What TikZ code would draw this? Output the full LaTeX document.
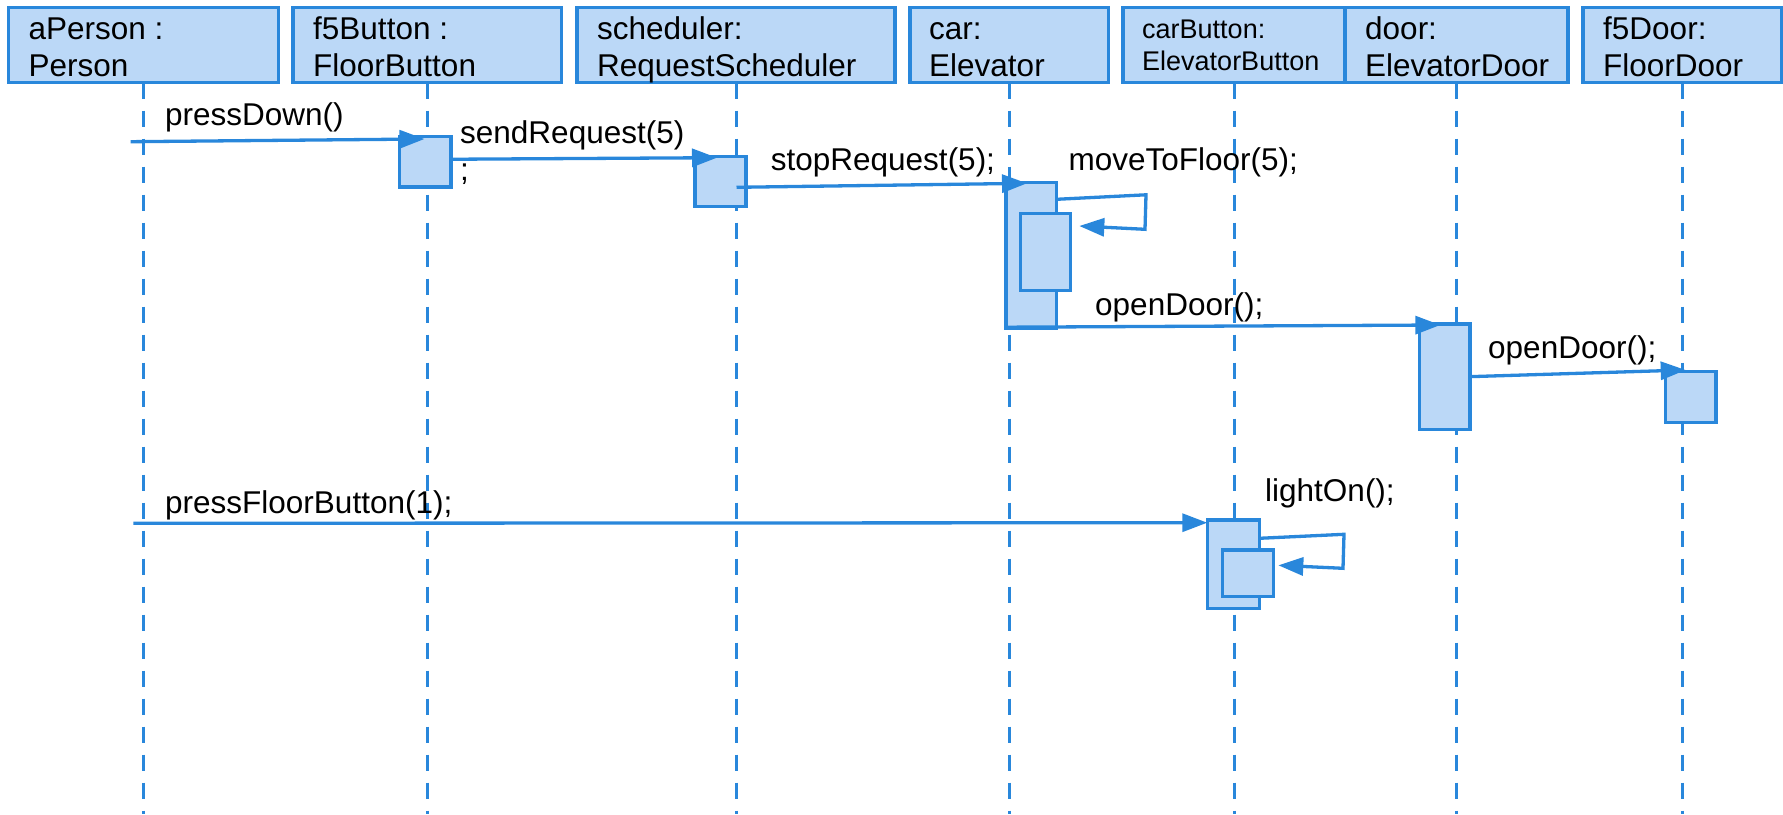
\documentclass[tikz,border=0pt]{standalone}
\usepackage{fontspec}
\setmainfont{Liberation Sans}
\usetikzlibrary{arrows.meta,calc}
\definecolor{azul}{RGB}{41,135,219}
\definecolor{celeste}{RGB}{187,216,247}

\begin{document}
\begin{tikzpicture}[x=1pt,y=-1pt,
  cab/.style={draw=azul,fill=celeste,line width=3.5pt,rectangle,anchor=north west,inner sep=0pt,outer sep=0pt,minimum height=75.2pt},
  txt/.style={anchor=north west,align=left,inner sep=0pt,font=\fontsize{31.5}{37}\selectfont},
  txtp/.style={anchor=north west,align=left,inner sep=0pt,font=\fontsize{27}{32}\selectfont},
  act/.style={draw=azul,fill=celeste,line width=3.5pt,rectangle,anchor=north west,inner sep=0pt,outer sep=0pt},
  vida/.style={azul,line width=3pt,dash pattern=on 16pt off 12pt},
  msg/.style={azul,line width=3.3pt,-{Triangle[length=25pt,width=18pt]}},
  lbl/.style={anchor=base west,inner sep=0pt,font=\fontsize{31.5}{37}\selectfont}]
  \useasboundingbox (0,0) rectangle (1783,814);
  \coordinate (fondo) at (0,814);

  % Cabeceras
  \node[cab,minimum width=270pt] (person) at (8.3,7.5) {};
  \node[cab,minimum width=268.5pt] (fbutton) at (293,7.5) {};
  \node[cab,minimum width=318pt] (sched) at (577,7.5) {};
  \node[cab,minimum width=198.7pt] (car) at (910,7.5) {};
  \node[cab,minimum width=222pt] (cbutton) at (1123,7.5) {};
  \node[cab,minimum width=223pt] (door) at (1345,7.5) {};
  \node[cab,minimum width=198.5pt] (fdoor) at (1583,7.5) {};
  \node[txt] (personT) at ($(person.north west)+(20,5.5)$) {\strut aPerson :\\Person};
  \node[txt] (fbuttonT) at ($(fbutton.north west)+(20,5.5)$) {\strut f5Button :\\FloorButton};
  \node[txt] (schedT) at ($(sched.north west)+(20,5.5)$) {\strut scheduler:\\RequestScheduler};
  \node[txt] (carT) at ($(car.north west)+(19,5.5)$) {\strut car:\\Elevator};
  \node[txtp] (cbuttonT) at ($(cbutton.north west)+(19,8.5)$) {\strut carButton:\\ElevatorButton};
  \node[txt] (doorT) at ($(door.north west)+(20,5.5)$) {\strut door:\\ElevatorDoor};
  \node[txt] (fdoorT) at ($(fdoor.north west)+(20,5.5)$) {\strut f5Door:\\FloorDoor};

  % Lineas de vida
  \foreach \n in {person,fbutton,sched,car,cbutton,door,fdoor}
    \draw[vida] (\n.south) -- (\n.south |- fondo);

  % Activaciones
  \node[act,minimum width=51.5pt,minimum height=50.5pt] (fbA) at (399.5,136.5) {};
  \node[act,minimum width=51pt,minimum height=50pt] (schA) at (695,156.7) {};
  \node[act,minimum width=50.5pt,minimum height=146pt] (carA) at (1006,182.7) {};
  \node[act,minimum width=50pt,minimum height=77pt] (carB) at (1020.7,213.3) {};
  \node[act,minimum width=50.7pt,minimum height=105.3pt] (doorA) at (1419.3,324) {};
  \node[act,minimum width=50.3pt,minimum height=50.6pt] (fdoorA) at (1665.7,371.7) {};
  \node[act,minimum width=52pt,minimum height=88.3pt] (cbA) at (1207.3,520) {};
  \node[act,minimum width=50.6pt,minimum height=46.7pt] (cbB) at (1222.7,550) {};

  % Mensajes
  \coordinate (ini1) at (130.7,141.7);
  \draw[msg] (ini1) -- ($(fbA.north west)+(25,2.5)$);
  \draw[msg] ($(fbA.east)+(0,-2.5)$) -- ($(schA.north west)+(22,1)$);
  \coordinate (ini3) at (736.5,187.3);
  \draw[msg] (ini3) -- ($(carA.north west)+(21,0.6)$);
  \draw[msg] ($(carA.north east)+(0,16.6)$) -- ++(89.5,-4.5) -- ++(-1,34.5) -- ($(carB.north east)+(8.6,12.7)$);
  \draw[msg] ($(carA.south west)+(0,-1.5)$) -- ($(doorA.north west)+(21,1)$);
  \draw[msg] (doorA.east) -- ($(fdoorA.north west)+(20,-1.7)$);
  \coordinate (ini7) at (133.3,523.3);
  \draw[msg] (ini7) -- ($(cbA.north west)+(0,2.7)$);
  \draw[msg] ($(cbA.north east)+(0,18.3)$) -- ++(84.7,-4) -- ++(-1,34) -- ($(cbB.north east)+(5,15.3)$);

  % Etiquetas
  \node[lbl] (m1) at (165,125) {pressDown()};
  \node[txt] (m2) at (460,117.4) {\strut sendRequest(5)\\;};
  \node[lbl] (m3) at (770.7,170.7) {stopRequest(5);};
  \node[lbl] (m4) at (1068.3,170.7) {moveToFloor(5);};
  \node[lbl] (m5) at (1095,315) {openDoor();};
  \node[lbl] (m6) at (1488,358.3) {openDoor();};
  \node[lbl] (m7) at (165,513) {pressFloorButton(1);};
  \node[lbl] (m8) at (1265,501.7) {lightOn();};

\end{tikzpicture}
\end{document}
